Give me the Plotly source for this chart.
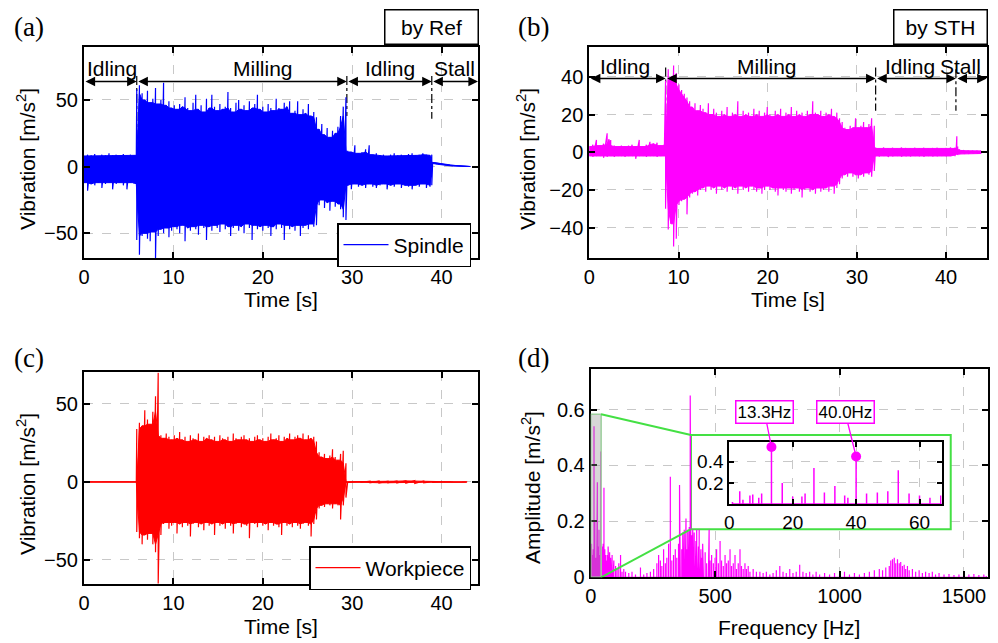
import plotly.graph_objects as go

# ------------------------------------------------------------------ data
# (a) spindle vibration (reference sensor): envelope
ta_idle1 = [0, 0.4, 0.8, 1.2, 1.6, 2.0, 2.4, 2.8, 3.2, 3.6, 4.0, 4.4, 4.8, 5.2, 5.6, 5.85]
ha_idle1 = [8, 9, 8.5, 9.5, 8, 9, 8.5, 10, 8.5, 9, 8, 9.5, 8.5, 9, 8.5, 9]
la_idle1 = [-12, -18, -13, -14, -12, -16, -13, -12, -17, -13, -12, -14, -17, -12, -13, -14]

ta_mill = [5.9, 6.2, 6.5, 6.8, 7.1, 7.4, 7.7, 8.0, 8.3, 8.6,
           8.9, 9.2, 9.5, 9.8, 10.1, 10.4, 10.7, 11.0, 11.3, 11.6,
           11.9, 12.2, 12.5, 12.8, 13.1, 13.4, 13.7, 14.0, 14.3, 14.6,
           14.9, 15.2, 15.5, 15.8, 16.1, 16.4, 16.7, 17.0, 17.3, 17.6,
           17.9, 18.2, 18.5, 18.8, 19.1, 19.4, 19.7, 20.0, 20.3, 20.6,
           20.9, 21.2, 21.5, 21.8, 22.1, 22.4, 22.7, 23.0, 23.3, 23.6,
           23.9, 24.2, 24.5, 24.8, 25.1, 25.4, 25.7, 26.0, 26.3, 26.6,
           26.9, 27.2, 27.5, 27.8, 28.1, 28.4, 28.7, 29.0, 29.3]
ha_mill = [58, 61, 55, 50, 57, 48, 51, 59, 47, 50,
           63, 46, 49, 44, 46, 43, 47, 45, 52, 44,
           42, 48, 54, 43, 46, 41, 51, 44, 54, 45,
           42, 47, 43, 45, 56, 44, 41, 48, 50, 43,
           46, 42, 49, 44, 47, 54, 43, 45, 41, 47,
           44, 42, 51, 44, 43, 48, 45, 49, 40, 42,
           49, 39, 43, 40, 47, 38, 41, 37, 28, 32,
           24, 29, 22, 27, 25, 30, 38, 45, 52]
la_mill = [-55, -66, -52, -50, -54, -56, -49, -69, -52, -47,
           -50, -46, -53, -48, -45, -47, -50, -44, -56, -46,
           -48, -45, -47, -51, -44, -46, -55, -45, -48, -44,
           -46, -49, -43, -47, -45, -52, -46, -44, -48, -45,
           -50, -43, -46, -55, -44, -47, -45, -48, -44, -46,
           -52, -45, -47, -43, -46, -55, -44, -47, -45, -48,
           -44, -52, -46, -44, -47, -43, -45, -44, -29, -25,
           -31, -27, -33, -26, -30, -28, -32, -38, -40]

ta_idle2 = [29.5, 29.9, 30.3, 30.7, 31.1, 31.5, 31.9, 32.3, 32.7, 33.1, 33.5, 33.9, 34.3,
            34.7, 35.1, 35.5, 35.9, 36.3, 36.7, 37.1, 37.5, 37.9, 38.3, 38.7, 38.9]
ha_idle2 = [12, 11, 16, 10, 11, 13, 16, 9, 10, 8.5, 9, 8, 9, 10, 8.5, 9, 8, 9.5, 10, 8.5, 9, 10, 9, 8.5, 9]
la_idle2 = [-14, -17, -13, -15, -14, -16, -13, -15, -16, -14, -13, -17, -14, -15, -13, -16, -14,
            -15, -17, -14, -15, -13, -16, -15, -14]

ta_stall = [39.0, 39.5, 40.0, 40.5, 41.0, 41.5, 42.0, 42.5, 43.2]
va_stall = [3.2, 2.4, 1.8, 1.3, 0.9, 0.6, 0.4, 0.2, 0.1]

# (b) spindle vibration (STH sensor)
tb_idle1 = [0, 0.4, 0.8, 1.2, 1.6, 2.0, 2.2, 2.4, 2.8, 3.2, 3.6, 4.0, 4.4, 4.8, 5.2, 5.6,
            6.0, 6.4, 6.8, 7.2, 7.6, 8.0, 8.4]
hb_idle1 = [3, 4, 6.5, 3.5, 4.5, 10, 7, 6.5, 3.5, 3, 3.5, 3, 3.5, 4, 3, 6.5, 3, 4, 5.5, 4.5, 5, 3.5, 4]
lb_idle1 = [-2, -2.5, -2, -2, -3, -2.5, -2, -2, -2.5, -2, -2, -2.5, -2, -2, -3.5, -2, -2, -2.5,
            -2, -2, -2.5, -2, -2]

tb_mill = [8.55, 8.85, 9.15, 9.45, 9.75, 10.05, 10.35, 10.65, 10.95, 11.25,
           11.55, 11.85, 12.15, 12.45, 12.75, 13.05, 13.35, 13.65, 13.95, 14.25,
           14.55, 14.85, 15.15, 15.45, 15.75, 16.05, 16.35, 16.65, 16.95, 17.25,
           17.55, 17.85, 18.15, 18.45, 18.75, 19.05, 19.35, 19.65, 19.95, 20.25,
           20.55, 20.85, 21.15, 21.45, 21.75, 22.05, 22.35, 22.65, 22.95, 23.25,
           23.55, 23.85, 24.15, 24.45, 24.75, 25.05, 25.35, 25.65, 25.95, 26.25,
           26.55, 26.85, 27.15, 27.45, 27.75, 28.05, 28.35, 28.65, 28.95, 29.25,
           29.55, 29.85, 30.15, 30.45, 30.75, 31.05, 31.35, 31.65, 31.95]
hb_mill = [38, 44, 40, 46, 42, 36, 33, 31, 29, 27,
           24, 26, 22, 25, 23, 21, 26, 20, 23, 21,
           19, 22, 20, 24, 19, 21, 20, 27, 19, 22,
           20, 21, 19, 23, 20, 22, 19, 21, 24, 20,
           19, 22, 20, 23, 19, 21, 20, 24, 19, 22,
           20, 21, 19, 22, 20, 27, 21, 20, 22, 19,
           21, 20, 23, 19, 21, 18, 16, 13, 12, 14,
           13, 18, 13, 14, 16, 13, 15, 18, 14]
lb_mill = [-30, -41, -38, -50, -46, -28, -26, -25, -33, -24,
           -22, -21, -23, -20, -19, -21, -18, -20, -19, -22,
           -18, -20, -19, -21, -18, -20, -19, -22, -18, -20,
           -19, -21, -18, -20, -21, -19, -22, -20, -18, -20,
           -19, -21, -23, -19, -20, -21, -19, -22, -20, -19,
           -21, -24, -20, -19, -21, -20, -22, -19, -21, -20,
           -19, -21, -18, -22, -19, -17, -14, -12, -13, -11,
           -13, -12, -14, -12, -13, -11, -12, -13, -10]

tb_idle2 = [32.1, 32.5, 33.0, 33.5, 34.0, 34.5, 35.0, 35.5, 36.0, 36.5, 37.0, 37.5, 38.0,
            38.5, 39.0, 39.5, 40.0, 40.5, 41.0]
hb_idle2 = [2.5, 2, 2.5, 2, 2.3, 2, 2.5, 2.2, 2, 2.4, 2.1, 2.3, 2, 2.2, 2.4, 2, 2.2, 2.5, 2.3]
lb_idle2 = [-2, -2.3, -2, -2.5, -2.2, -2, -2.4, -2.1, -2.3, -2, -2.2, -2.4, -2, -2.3, -2.1,
            -2, -2.2, -2, -2.1]

tb_stall = [41.1, 41.2, 41.3, 41.5, 42.0, 42.5, 43.0, 43.5, 43.9]
hb_stall = [2, 8.5, 3, 1.5, 1, 0.8, 0.8, 0.7, 0.7]
lb_stall = [-1.5, -1, -1.5, -1, -0.8, -0.8, -0.7, -0.7, -0.7]

# (c) workpiece vibration
tc_idle1 = [0, 2, 4, 5.85]
hc_idle1 = [0, 0, 0, 0]
lc_idle1 = [0, 0, 0, 0]
tc_mill = ta_mill  # same acquisition clock as (a)
hc_mill = [34, 38, 36, 46, 40, 37, 45, 55, 70, 30,
           28, 31, 29, 27, 30, 28, 32, 27, 29, 26,
           30, 28, 27, 31, 26, 29, 28, 30, 27, 29,
           26, 30, 28, 27, 29, 26, 31, 28, 27, 29,
           30, 27, 28, 26, 29, 30, 27, 28, 26, 29,
           31, 27, 28, 30, 26, 29, 28, 31, 27, 29,
           30, 28, 31, 27, 30, 28, 29, 26, 19, 16,
           18, 15, 17, 21, 16, 14, 18, 20, 12]
lc_mill = [-32, -36, -40, -34, -37, -33, -40, -45, -65, -34,
           -27, -26, -30, -28, -26, -33, -27, -29, -26, -28,
           -35, -27, -26, -29, -27, -31, -26, -28, -27, -34,
           -26, -28, -27, -30, -26, -28, -33, -27, -26, -29,
           -27, -28, -36, -26, -27, -29, -26, -28, -27, -31,
           -26, -28, -27, -29, -34, -26, -28, -27, -29, -26,
           -28, -30, -27, -26, -28, -35, -27, -24, -17, -15,
           -16, -14, -15, -17, -14, -15, -24, -15, -10]
tc_idle2 = [29.5, 31, 32, 33, 34, 35, 36, 37, 38, 39, 41, 42.8]
hc_idle2 = [0.3, 0.2, 0.5, 0.6, 0.5, 0.7, 0.8, 0.9, 0.6, 0.2, 0.1, 0.1]
lc_idle2 = [-0.3, -0.2, -0.5, -0.6, -0.5, -0.7, -0.8, -0.9, -0.6, -0.2, -0.1, -0.1]

# (d) amplitude spectrum (Hz, m/s^2)
spec_freq = [1, 3.3, 4.3, 6.5, 7.4, 9.3, 10.2, 13.3, 16.7, 20.0,
             22.9, 23.9, 26.7, 30.0, 33.3, 36.4, 37.4, 40.0, 43.3, 46.7,
             50.0, 53.3, 56.7, 60.0, 63.3, 66.7,
             70, 73, 76, 80, 83, 86, 90, 93, 100, 106, 113, 120, 126, 133, 140, 153, 166, 180,
             200, 213, 226, 240, 253, 266,
             273, 280, 286, 293, 300, 306, 313, 320, 326, 333,
             340, 346, 353, 357, 360, 366, 370, 373, 376, 380,
             383, 386, 390, 393, 396, 400, 403, 406, 410, 413,
             416, 420, 423, 426, 430, 433, 436, 440, 443, 446,
             450, 453, 460, 466, 473, 476, 480, 486, 493, 500,
             506, 513, 520, 526, 533, 540, 546, 553, 560, 566,
             573, 580, 586, 593, 600, 606, 613, 620, 626, 633,
             640, 653, 666,
             680, 693, 706, 720, 733, 746, 760, 773, 786, 800,
             813, 826, 840, 853, 866, 880, 893, 906, 920, 940,
             960, 980, 1000, 1020, 1040, 1060, 1080, 1100, 1120, 1140,
             1160, 1173, 1186, 1200, 1206, 1213, 1220, 1226, 1233, 1240,
             1246, 1253, 1260, 1266, 1273, 1280, 1293, 1306, 1320, 1333,
             1346, 1360, 1373, 1386, 1400, 1420, 1440, 1460, 1480, 1500,
             1520, 1540, 1560, 1580, 1590]
spec_amp = [0.02, 0.12, 0.04, 0.08, 0.09, 0.06, 0.10, 0.54, 0.20, 0.07,
            0.07, 0.10, 0.34, 0.11, 0.17, 0.08, 0.06, 0.45, 0.10, 0.11,
            0.12, 0.32, 0.10, 0.08, 0.06, 0.08,
            0.11, 0.06, 0.09, 0.07, 0.05, 0.08, 0.04, 0.06, 0.04, 0.03, 0.05, 0.08, 0.02, 0.03,
            0.02, 0.015, 0.02, 0.01, 0.035, 0.01, 0.015, 0.02, 0.03, 0.05,
            0.08, 0.06, 0.04, 0.10, 0.05, 0.07, 0.12, 0.36, 0.06, 0.08,
            0.10, 0.07, 0.12, 0.33, 0.15, 0.10, 0.16, 0.08, 0.17, 0.13,
            0.21, 0.10, 0.17, 0.12, 0.18, 0.65, 0.10, 0.15, 0.17, 0.12,
            0.16, 0.10, 0.13, 0.17, 0.08, 0.11, 0.17, 0.09, 0.10, 0.07,
            0.12, 0.06, 0.09, 0.05, 0.07, 0.17, 0.06, 0.08, 0.05, 0.07,
            0.10, 0.05, 0.13, 0.06, 0.04, 0.08, 0.05, 0.06, 0.10, 0.04,
            0.05, 0.08, 0.03, 0.05, 0.10, 0.04, 0.03, 0.05, 0.03, 0.04,
            0.02, 0.03, 0.02,
            0.02, 0.015, 0.02, 0.01, 0.015, 0.025, 0.04, 0.02, 0.015, 0.03,
            0.015, 0.02, 0.045, 0.02, 0.015, 0.02, 0.01, 0.02, 0.01, 0.015,
            0.01, 0.015, 0.01, 0.02, 0.01, 0.015, 0.01, 0.015, 0.02, 0.025,
            0.03, 0.025, 0.035, 0.04, 0.06, 0.065, 0.07, 0.05, 0.065, 0.05,
            0.055, 0.04, 0.045, 0.03, 0.04, 0.025, 0.03, 0.02, 0.025, 0.015,
            0.02, 0.015, 0.02, 0.01, 0.015, 0.01, 0.012, 0.008, 0.01, 0.008,
            0.01, 0.012, 0.008, 0.01, 0.005]
marked_freqs = [13.3, 40.0]
marked_labels = ["13.3Hz", "40.0Hz"]

phases = ["Idling", "Milling", "Idling", "Stall"]
bounds_a = [0, 5.9, 29.4, 38.9, 44.07]
label_pos_a = [3.1, 20.0, 34.2, 41.4]
bounds_b = [0, 8.56, 32.1, 41.1, 44.55]
label_pos_b = [4.0, 19.9, 35.9, 41.6]

# ------------------------------------------------------------------ figure
W, H = 998, 643
FONT = "Liberation Sans, Arial, sans-serif"
SERIF = "Liberation Serif, Times New Roman, serif"
BLUE, MAG, RED = "#0000ff", "#ff00ff", "#ff0000"
GREEN = "#44e044"


def px(x):
    return x / W


def py(y):
    return 1 - y / H


fig = go.Figure()


def signal(segs, color, xa, ya, name=None, legend="legend"):
    t, hi, lo = [], [], []
    for st, sh, sl in segs:
        assert len(st) == len(sh) == len(sl)
        t += list(st)
        hi += list(sh)
        lo += list(sl)
    n = len(t)
    # solid core: smallest excursion among neighbouring samples
    core_hi = [min(hi[max(i - 1, 0):i + 2]) for i in range(n)]
    core_lo = [max(lo[max(i - 1, 0):i + 2]) for i in range(n)]
    fig.add_trace(go.Scatter(x=t + t[::-1], y=core_hi + core_lo[::-1], fill="toself",
                             fillcolor=color, mode="lines", line=dict(color=color, width=1),
                             xaxis=xa, yaxis=ya, showlegend=False, hoverinfo="skip"))
    zx, zy = [], []
    for ti, h, l in zip(t, hi, lo):
        zx += [ti, ti]
        zy += [h, l]
    fig.add_trace(go.Scatter(x=zx, y=zy, mode="lines", line=dict(color=color, width=1.2),
                             xaxis=xa, yaxis=ya, name=name or "", showlegend=name is not None,
                             legend=legend))


signal([(ta_idle1, ha_idle1, la_idle1), (ta_mill, ha_mill, la_mill),
        (ta_idle2, ha_idle2, la_idle2), (ta_stall, va_stall, va_stall)],
       BLUE, "x", "y", name="Spindle", legend="legend")
signal([(tb_idle1, hb_idle1, lb_idle1), (tb_mill, hb_mill, lb_mill),
        (tb_idle2, hb_idle2, lb_idle2), (tb_stall, hb_stall, lb_stall)],
       MAG, "x2", "y2")
signal([(tc_idle1, hc_idle1, lc_idle1), (tc_mill, hc_mill, lc_mill),
        (tc_idle2, hc_idle2, lc_idle2)],
       RED, "x3", "y3", name="Workpiece", legend="legend2")

# spectrum stems (main + inset)
assert len(spec_freq) == len(spec_amp)
sx, sy = [], []
for f, a in zip(spec_freq, spec_amp):
    sx += [f, f, f]
    sy += [0, a, 0]
fig.add_trace(go.Scatter(x=sx, y=sy, mode="lines", line=dict(color=MAG, width=1.2),
                         xaxis="x4", yaxis="y4", showlegend=False))
fig.add_trace(go.Scatter(x=sx, y=sy, mode="lines", line=dict(color=MAG, width=1.5),
                         xaxis="x5", yaxis="y5", showlegend=False))
mk_amp = [spec_amp[spec_freq.index(f)] for f in marked_freqs]
fig.add_trace(go.Scatter(x=marked_freqs, y=mk_amp, mode="markers",
                         marker=dict(color=MAG, size=10), xaxis="x5", yaxis="y5",
                         showlegend=False))

# ------------------------------------------------------------------ axes
base = dict(showline=True, linecolor="black", linewidth=2, mirror="allticks", ticks="inside",
            ticklen=6, tickwidth=1.5, tickcolor="black", showgrid=True, gridcolor="#c8c8c8",
            griddash="dash", gridwidth=1, zeroline=False, automargin=False,
            tickfont=dict(family=FONT, size=20, color="black"))
small = dict(tickfont=dict(family=FONT, size=19, color="black"), ticklen=5)

dom_ax = [px(84), px(478)]
fig.update_layout(
    xaxis=dict(base, domain=dom_ax, range=[0, 44.07], tickvals=[0, 10, 20, 30, 40], anchor="y"),
    yaxis=dict(base, domain=[py(258), py(47.3)], range=[-68.5, 89.5], tickvals=[-50, 0, 50], anchor="x"),
    xaxis2=dict(base, domain=[px(589.3), px(986.7)], range=[0, 44.55], tickvals=[0, 10, 20, 30, 40], anchor="y2"),
    yaxis2=dict(base, domain=[py(257.7), py(46.7)], range=[-56, 56], tickvals=[-40, -20, 0, 20, 40], anchor="x2"),
    xaxis3=dict(base, domain=dom_ax, range=[0, 44.07], tickvals=[0, 10, 20, 30, 40], anchor="y3"),
    yaxis3=dict(base, domain=[py(584), py(372.3)], range=[-65.4, 70.3], tickvals=[-50, 0, 50], anchor="x3"),
    xaxis4=dict(base, domain=[px(590.7), px(988.3)], range=[0, 1598], tickvals=[0, 500, 1000, 1500], anchor="y4"),
    yaxis4=dict(base, domain=[py(577.3), py(369)], range=[0, 0.745], tickvals=[0, 0.2, 0.4, 0.6], anchor="x4"),
    xaxis5=dict(base, domain=[px(729.3), px(941.7)], range=[0, 67], tickvals=[0, 20, 40, 60], anchor="y5", **small),
    yaxis5=dict(base, domain=[py(504), py(441.7)], range=[0, 0.59], tickvals=[0.2, 0.4], anchor="x5", **small),
)

# ------------------------------------------------------------------ phase arrows
shapes = []
ann = []


def phase_marks(xr, yr, bounds, label_pos, y_arrow, y_label, vlines):
    for i in range(4):
        ann.append(dict(x=bounds[i + 1], y=y_arrow, ax=bounds[i], ay=y_arrow, xref=xr, yref=yr,
                        axref=xr, ayref=yr, text="", showarrow=True, arrowhead=2,
                        arrowside="end+start", arrowsize=1.2, arrowwidth=1.6, arrowcolor="black",
                        standoff=0, startstandoff=0))
        ann.append(dict(x=label_pos[i], y=y_label, xref=xr, yref=yr, text=phases[i],
                        xanchor="center", yanchor="middle",
                        showarrow=False, font=dict(family=FONT, size=21, color="black")))
    for xv, y0, y1 in vlines:
        shapes.append(dict(type="line", xref=xr, yref=yr, x0=xv, x1=xv, y0=y0, y1=y1,
                           line=dict(color="black", width=1.2, dash="dashdot"), layer="between"))


phase_marks("x", "y", bounds_a, label_pos_a, 63.8, 73.3,
            [(bounds_a[1], 68, 0), (bounds_a[2], 68, 38), (bounds_a[3], 68, 36)])
phase_marks("x2", "y2", bounds_b, label_pos_b, 39.1, 45.5,
            [(bounds_b[1], 45, 0), (bounds_b[2], 45, 22), (bounds_b[3], 44, 22)])

# zoom boxes in (d)
shapes.append(dict(type="rect", xref="x4", yref="y4", x0=403, x1=1447, y0=0.172, y1=0.509,
                   line=dict(color=GREEN, width=2), fillcolor="white", layer="between"))
shapes.append(dict(type="rect", xref="x4", yref="y4", x0=0, x1=42, y0=0, y1=0.583,
                   line=dict(color="#9ccf9c", width=1.5), fillcolor="rgba(140,140,140,0.35)",
                   layer="above"))
shapes.append(dict(type="line", xref="x4", yref="y4", x0=42, y0=0.583, x1=403, y1=0.509,
                   line=dict(color=GREEN, width=2), layer="above"))
shapes.append(dict(type="line", xref="x4", yref="y4", x0=42, y0=0.0, x1=403, y1=0.172,
                   line=dict(color=GREEN, width=2), layer="above"))

# peak labels in the inset
for f, a, lab, (axo, ayo) in zip(marked_freqs, mk_amp, marked_labels, [(-7, -35), (-11, -44)]):
    ann.append(dict(x=f, y=a, xref="x5", yref="y5", ax=axo, ay=ayo, text=lab, showarrow=True,
                    arrowhead=0, arrowcolor=MAG, arrowwidth=1.3, bordercolor=MAG, borderwidth=1.5,
                    borderpad=1, bgcolor="white", font=dict(family=FONT, size=17, color="black")))


def paper_text(txt, x, y, size, family=FONT, angle=0, **kw):
    ann.append(dict(x=px(x), y=py(y), xref="paper", yref="paper", text=txt, showarrow=False,
                    xanchor="center", yanchor="middle", textangle=angle,
                    font=dict(family=family, size=size, color="black"), **kw))


# panel letters
for lab, (x, y) in zip(["(a)", "(b)", "(c)", "(d)"], [(29, 27), (533, 27), (29, 358), (533, 358)]):
    paper_text(lab, x, y, 27, family=SERIF)

# sensor boxes
for lab, x in [("by Ref", 431), ("by STH", 940)]:
    paper_text(lab, x, 27, 21, bordercolor="black", borderwidth=1.5, borderpad=2,
               bgcolor="white", width=88, height=29)

# axis titles
titles = [("Vibration [m/s<sup>2</sup>]", 26, 159, -90), ("Time [s]", 281, 299, 0),
          ("Vibration [m/s<sup>2</sup>]", 526, 159, -90), ("Time [s]", 788, 299, 0),
          ("Vibration [m/s<sup>2</sup>]", 26, 484, -90), ("Time [s]", 281, 626, 0),
          ("Amplitude [m/s<sup>2</sup>]", 531, 488, -90), ("Frequency [Hz]", 789, 627, 0)]
for txt, x, y, ang in titles:
    paper_text(txt, x, y, 21, angle=ang)

leg = dict(xanchor="right", yanchor="top", bordercolor="black", borderwidth=1.5, bgcolor="white",
           font=dict(family=FONT, size=21, color="black"), itemwidth=45, tracegroupgap=0)
fig.update_layout(
    template="none",
    width=W, height=H, margin=dict(l=0, r=0, t=0, b=0, autoexpand=False),
    paper_bgcolor="white", plot_bgcolor="white",
    shapes=shapes, annotations=ann,
    legend=dict(leg, x=px(471), y=py(223)),
    legend2=dict(leg, x=px(471), y=py(546)),
    font=dict(family=FONT, color="black"),
)

fig.write_html("out.html")
